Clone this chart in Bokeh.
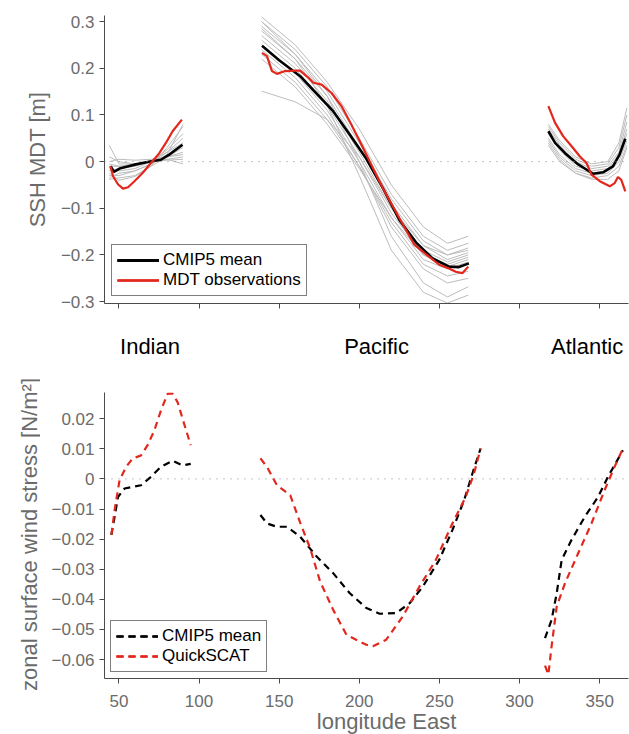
import math
from bokeh.plotting import figure
from bokeh.layouts import column, row
from bokeh.models import Range1d, Span, FixedTicker, CustomJSTickFormatter
from bokeh.embed import file_html
from bokeh.resources import INLINE
from bokeh.core.properties import value

# ---------------- data: top panel (SSH MDT [m]) ----------------
ind_lon_mean = [44.8, 46.9, 50.4, 59.7, 67.9, 76.2, 81.4, 89.7]
ind_mean = [-0.010, -0.022, -0.015, -0.0065, -0.001, 0.004, 0.015, 0.036]
ind_lon_obs = [44.7, 46.4, 49.5, 52.6, 55.7, 59.7, 64.9, 70.0, 75.2, 79.3, 83.5, 89.3]
ind_obs = [-0.010, -0.032, -0.049, -0.058, -0.055, -0.042, -0.024, -0.003, 0.018, 0.040, 0.065, 0.090]
ind_model_lon = [44, 50, 60, 70, 80, 90]
ind_models = [
    [0.035, -0.005, -0.005, 0.000, 0.005, 0.010],
    [-0.010, -0.010, -0.005, 0.000, 0.003, 0.005],
    [-0.020, -0.015, -0.010, 0.000, 0.010, 0.020],
    [-0.030, -0.030, -0.020, -0.005, 0.020, 0.050],
    [-0.038, -0.035, -0.030, -0.010, 0.030, 0.075],
    [0.000, 0.005, 0.003, 0.005, 0.010, 0.015],
    [-0.015, -0.020, -0.015, 0.000, 0.025, 0.060],
    [-0.025, -0.040, -0.032, -0.010, 0.010, 0.030],
    [0.010, 0.000, -0.005, 0.000, 0.005, -0.005],
    [-0.005, -0.010, -0.010, 0.003, 0.020, 0.040],
    [-0.035, -0.025, -0.020, -0.005, 0.015, 0.080],
]

pac_lon_mean = [139.3, 150.0, 163.1, 173.0, 183.7, 194.0, 204.4, 214.7, 225.0, 235.3, 245.6, 256.0, 262.2, 268.4]
pac_mean = [0.248, 0.217, 0.183, 0.147, 0.108, 0.058, 0.006, -0.057, -0.125, -0.173, -0.207, -0.225, -0.226, -0.218]
pac_lon_obs = [139.3, 142.4, 145.5, 148.6, 153.7, 159.9, 163.0, 168.2, 171.3, 176.5, 182.7, 188.9,
               195.1, 199.2, 204.4, 214.7, 225.0, 234.3, 241.5, 249.9, 256.0, 260.2, 264.3, 268.0]
pac_obs = [0.233, 0.226, 0.194, 0.188, 0.194, 0.195, 0.195, 0.180, 0.169, 0.165, 0.147, 0.119,
           0.079, 0.051, 0.015, -0.057, -0.121, -0.178, -0.198, -0.221, -0.229, -0.236, -0.239, -0.225]
pac_model_lon = [139, 160, 180, 200, 220, 240, 255, 268]
pac_models = [
    [0.310, 0.250, 0.170, 0.070, -0.050, -0.140, -0.175, -0.160],
    [0.300, 0.240, 0.160, 0.050, -0.070, -0.160, -0.190, -0.175],
    [0.290, 0.230, 0.150, 0.040, -0.080, -0.170, -0.200, -0.185],
    [0.280, 0.220, 0.140, 0.030, -0.090, -0.180, -0.210, -0.195],
    [0.270, 0.210, 0.130, 0.020, -0.100, -0.190, -0.215, -0.200],
    [0.260, 0.200, 0.120, 0.010, -0.110, -0.200, -0.225, -0.210],
    [0.250, 0.190, 0.110, 0.000, -0.120, -0.210, -0.230, -0.215],
    [0.240, 0.180, 0.100, -0.010, -0.130, -0.220, -0.245, -0.235],
    [0.230, 0.170, 0.090, -0.010, -0.140, -0.230, -0.260, -0.250],
    [0.300, 0.230, 0.140, 0.000, -0.160, -0.260, -0.290, -0.268],
    [0.285, 0.220, 0.120, -0.030, -0.190, -0.280, -0.303, -0.286],
    [0.151, 0.128, 0.090, 0.010, -0.100, -0.180, -0.200, -0.190],
    [0.220, 0.160, 0.080, -0.015, -0.120, -0.200, -0.220, -0.205],
]

atl_lon_mean = [318.0, 322.2, 328.4, 336.6, 345.9, 352.1, 358.3, 362.4, 366.0]
atl_mean = [0.065, 0.040, 0.018, -0.006, -0.026, -0.023, -0.010, 0.015, 0.049]
atl_lon_obs = [318.0, 322.2, 327.3, 332.5, 337.7, 341.8, 344.9, 350.1, 356.3, 359.4, 361.4, 363.5, 366.0]
atl_obs = [0.119, 0.083, 0.054, 0.033, 0.011, -0.003, -0.028, -0.042, -0.053, -0.046, -0.033, -0.039, -0.064]
atl_model_lon = [318, 325, 335, 345, 355, 362, 367]
atl_models = [
    [0.080, 0.045, 0.010, -0.005, 0.000, 0.040, 0.115],
    [0.075, 0.040, 0.005, -0.010, -0.005, 0.030, 0.100],
    [0.070, 0.035, 0.000, -0.015, -0.010, 0.020, 0.085],
    [0.060, 0.025, -0.010, -0.020, -0.015, 0.015, 0.070],
    [0.050, 0.015, -0.015, -0.025, -0.020, 0.010, 0.060],
    [0.045, 0.010, -0.020, -0.030, -0.025, 0.000, 0.045],
    [0.040, 0.005, -0.025, -0.035, -0.030, -0.010, 0.035],
    [0.035, 0.000, -0.025, -0.038, -0.038, -0.020, 0.030],
]

# ---------------- data: bottom panel (wind stress [N/m2]) ----------------
w_ind_lon_mean = [45.3, 47.3, 49.4, 53.5, 63.8, 70.0, 76.2, 83.5, 89.7, 94.8]
w_ind_mean = [-0.0186, -0.0126, -0.0060, -0.0032, -0.0021, 0.0007, 0.0040, 0.0060, 0.0045, 0.0050]
w_ind_lon_obs = [45.3, 47.3, 50.4, 54.5, 58.6, 63.8, 67.9, 72.1, 76.2, 80.4, 83.5, 86.6, 90.7, 94.8]
w_ind_obs = [-0.0186, -0.0104, -0.0004, 0.0040, 0.0068, 0.0078, 0.0112, 0.0161, 0.0227, 0.0283, 0.0283, 0.0255, 0.0183, 0.0112]

w_pac_lon_mean = [138.3, 142.4, 148.6, 154.8, 163.1, 173.4, 183.7, 194.1, 204.4, 212.7, 223.0, 231.4,
                  239.6, 249.9, 258.1, 265.4, 270.6, 275.7]
w_pac_mean = [-0.0120, -0.0148, -0.0159, -0.0159, -0.0192, -0.0258, -0.0313, -0.0380, -0.0429, -0.0448,
              -0.0446, -0.0413, -0.0358, -0.0269, -0.0170, -0.0071, 0.0018, 0.0101]
w_pac_lon_obs = [138.3, 142.4, 148.6, 156.9, 163.1, 169.3, 175.5, 183.7, 192.0, 204.4, 208.5, 216.8,
                 227.1, 237.5, 247.8, 258.1, 266.4, 271.6, 275.7]
w_pac_obs = [0.0068, 0.0040, -0.0021, -0.0054, -0.0145, -0.0230, -0.0340, -0.0435, -0.0518, -0.0551,
             -0.0556, -0.0534, -0.0457, -0.0358, -0.0269, -0.0148, -0.0060, 0.0018, 0.0101]

w_atl_lon_mean = [315.9, 320.0, 323.2, 326.3, 332.4, 340.7, 349.0, 355.2, 364.5]
w_atl_mean = [-0.0529, -0.0468, -0.0380, -0.0269, -0.0203, -0.0126, -0.0060, 0.0007, 0.0095]
w_atl_lon_obs = [315.9, 318.0, 320.0, 323.2, 328.4, 336.6, 344.9, 353.1, 359.3, 364.5]
w_atl_obs = [-0.0620, -0.0650, -0.0556, -0.0424, -0.0346, -0.0247, -0.0148, -0.0037, 0.0040, 0.0101]

# ---------------- ticks / labels ----------------
x_ticks = [50, 100, 150, 200, 250, 300, 350]
x_tick_labels = ["50", "100", "150", "200", "250", "300", "350"]
ssh_ticks = [-0.3, -0.2, -0.1, 0.0, 0.1, 0.2, 0.3]
tau_ticks = [-0.06, -0.05, -0.04, -0.03, -0.02, -0.01, 0.0, 0.01, 0.02]
region_names = ["Indian", "Pacific", "Atlantic"]
region_centers = [69.4, 210.8, 342.2]
tau_title = "zonal surface wind stress [N/m\u00b2]"
lon_title = "longitude East"

# ---------------- styling ----------------
FONT = "Liberation Sans"
RED = "#e2271c"
GREY = "#bcbcbc"
AXC = "#4a4a4a"
TXC = "#6b6b6b"
X0, X1 = 41, 368
FW = 524
LW = 40          # width of the strip holding the lower y title
MID_H = 74
FH2 = 286
B2 = 12
XS_H = 44        # strip below the lower panel: tick labels + x title


def fmt(dec):
    return CustomJSTickFormatter(code=(
        "if (Math.abs(tick) < 1e-9) { return '0'; }"
        "var s = Math.abs(tick).toFixed(%d);"
        "return (tick < 0 ? '\\u2212' : '') + s;" % dec))


def style_axes(p):
    for ax in (p.xaxis[0], p.yaxis[0]):
        ax.axis_line_color = AXC
        ax.axis_line_width = 1
        ax.major_tick_line_color = AXC
        ax.major_tick_out = 5
        ax.major_tick_in = 0
        ax.minor_tick_line_color = None
        ax.major_label_text_font = FONT
        ax.major_label_text_font_size = "17px"
        ax.major_label_text_color = TXC
        ax.major_label_standoff = 5
        ax.axis_label_text_font = FONT
        ax.axis_label_text_font_size = "22px"
        ax.axis_label_text_font_style = "normal"
        ax.axis_label_text_color = TXC
        ax.axis_label_standoff = 8
    p.grid.visible = False
    p.outline_line_color = None


def style_legend(p, margin_x):
    lg = p.legend[0]
    lg.location = "bottom_left"
    lg.margin = margin_x
    lg.padding = 5
    lg.spacing = 0
    lg.border_line_color = "black"
    lg.border_line_width = 1.5
    lg.label_text_font = FONT
    lg.label_text_font_size = "17px"
    lg.label_text_color = "black"
    lg.glyph_width = 42
    lg.glyph_height = 18
    lg.label_height = 18
    lg.label_standoff = 4
    lg.background_fill_color = "white"
    lg.background_fill_alpha = 1


def blank(p):
    p.grid.visible = False
    p.outline_line_color = None


# ---------------- top panel ----------------
p1 = figure(frame_width=FW, frame_height=288, x_range=Range1d(X0, X1), y_range=Range1d(-0.304, 0.313),
            output_backend="svg", toolbar_location=None,
            min_border_left=104, min_border_right=1, min_border_top=15, min_border_bottom=15)
p1.add_layout(Span(location=0, dimension="width", line_color="#8a8a8a", line_dash="1 6", line_width=1))

for lons, models in ((ind_model_lon, ind_models), (pac_model_lon, pac_models), (atl_model_lon, atl_models)):
    p1.multi_line(xs=[lons] * len(models), ys=models, line_color=GREY, line_width=1)

for lons, vals in ((ind_lon_mean, ind_mean), (pac_lon_mean, pac_mean), (atl_lon_mean, atl_mean)):
    p1.line(lons, vals, line_color="black", line_width=2.6, legend_label="CMIP5 mean")
for lons, vals in ((ind_lon_obs, ind_obs), (pac_lon_obs, pac_obs), (atl_lon_obs, atl_obs)):
    p1.line(lons, vals, line_color=RED, line_width=2.2, legend_label="MDT observations")

style_axes(p1)
p1.xaxis.ticker = FixedTicker(ticks=x_ticks)
p1.xaxis.formatter = CustomJSTickFormatter(code="return '';")
p1.xaxis.major_label_standoff = 0
p1.yaxis.ticker = FixedTicker(ticks=ssh_ticks)
p1.yaxis.formatter = fmt(1)
p1.yaxis.axis_label = "SSH MDT [m]"
style_legend(p1, 7)

# ---------------- region labels ----------------
pm = figure(frame_width=FW, frame_height=MID_H, x_range=p1.x_range, y_range=Range1d(0, 1),
            output_backend="svg", toolbar_location=None, x_axis_type=None, y_axis_type=None,
            min_border_left=104 - LW, min_border_right=1, min_border_top=0, min_border_bottom=0)
blank(pm)
pm.text(x=region_centers, y=[0.62] * 3, text=region_names, text_font=value(FONT),
        text_font_size="22px", text_color="black", text_align="center", text_baseline="alphabetic")

# ---------------- bottom panel ----------------
p2 = figure(frame_width=FW, frame_height=FH2, x_range=p1.x_range, y_range=Range1d(-0.0663, 0.0287),
            output_backend="svg", toolbar_location=None,
            min_border_left=104 - LW, min_border_right=1, min_border_top=0, min_border_bottom=B2)
p2.add_layout(Span(location=0, dimension="width", line_color="#8a8a8a", line_dash="1 6", line_width=1))

for lons, vals in ((w_ind_lon_mean, w_ind_mean), (w_pac_lon_mean, w_pac_mean), (w_atl_lon_mean, w_atl_mean)):
    p2.line(lons, vals, line_color="black", line_width=2.2, line_dash="7 5", legend_label="CMIP5 mean")
for lons, vals in ((w_ind_lon_obs, w_ind_obs), (w_pac_lon_obs, w_pac_obs), (w_atl_lon_obs, w_atl_obs)):
    p2.line(lons, vals, line_color=RED, line_width=2.2, line_dash="7 5", legend_label="QuickSCAT")

style_axes(p2)
p2.xaxis.ticker = FixedTicker(ticks=x_ticks)
p2.xaxis.formatter = CustomJSTickFormatter(code="return '';")
p2.xaxis.major_label_standoff = 0
p2.yaxis.ticker = FixedTicker(ticks=tau_ticks)
p2.yaxis.formatter = fmt(2)
style_legend(p2, 6)

# ---------------- strip with the lower y title (longer than the frame) ----------------
SH = MID_H + FH2 + B2
py = figure(width=LW, height=SH, x_range=Range1d(0, LW), y_range=Range1d(0, SH),
            output_backend="svg", toolbar_location=None, x_axis_type=None, y_axis_type=None,
            min_border=0)
blank(py)
py.text(x=[28.5], y=[SH - 216], text=[tau_title], angle=math.pi / 2, text_font=value(FONT),
        text_font_size="22px", text_color=TXC, text_align="center", text_baseline="middle")

# ---------------- strip below: x tick labels and x title ----------------
px = figure(frame_width=FW, frame_height=XS_H, x_range=p1.x_range, y_range=Range1d(0, XS_H),
            output_backend="svg", toolbar_location=None, x_axis_type=None, y_axis_type=None,
            min_border_left=104, min_border_right=1, min_border_top=0, min_border_bottom=0)
blank(px)
px.text(x=x_ticks, y=[34] * len(x_ticks), text=x_tick_labels, text_font=value(FONT),
        text_font_size="17px", text_color=TXC, text_align="center", text_baseline="middle")
px.text(x=[217.0], y=[13], text=[lon_title], text_font=value(FONT), text_font_size="22px",
        text_color=TXC, text_align="center", text_baseline="alphabetic")

layout = column(p1, row(py, column(pm, p2, spacing=0), spacing=0), px, spacing=0)
open("out.html", "w").write(file_html(layout, INLINE))
